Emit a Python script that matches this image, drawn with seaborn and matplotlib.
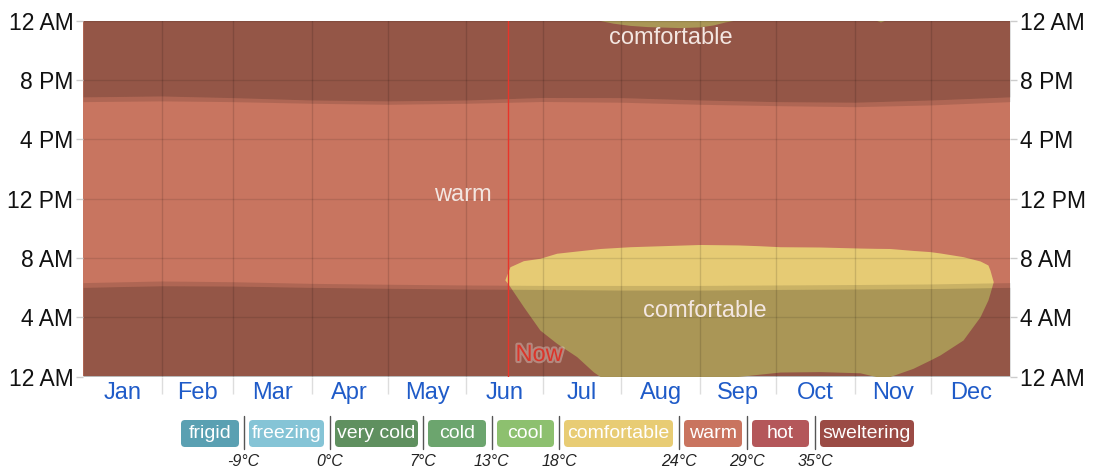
import matplotlib
matplotlib.use("Agg")
import matplotlib.pyplot as plt
import matplotlib.patheffects as pe
from matplotlib.patches import FancyBboxPatch
import seaborn as sns

# --- data ---
month_names = ["Jan", "Feb", "Mar", "Apr", "May", "Jun",
               "Jul", "Aug", "Sep", "Oct", "Nov", "Dec"]
month_start = [0, 31, 59, 90, 120, 151, 181, 212, 243, 273, 304, 334, 365]
hour_ticks = [0, 4, 8, 12, 16, 20, 24]
hour_labels = ["12 AM", "4 AM", "8 AM", "12 PM", "4 PM", "8 PM", "12 AM"]

# twilight / night boundaries (hours) at each month start
dawn_hr = [6.01, 6.12, 6.10, 6.01, 5.95, 5.90, 5.87, 5.83, 5.83, 5.87, 5.90, 5.93, 6.01]
sunrise_hr = [6.33, 6.44, 6.39, 6.28, 6.22, 6.17, 6.14, 6.14, 6.14, 6.17, 6.20, 6.24, 6.33]
sunset_hr = [18.53, 18.58, 18.53, 18.42, 18.35, 18.42, 18.54, 18.49, 18.35, 18.26, 18.19, 18.31, 18.53]
dusk_hr = [18.85, 18.91, 18.80, 18.64, 18.58, 18.64, 18.81, 18.80, 18.64, 18.53, 18.49, 18.64, 18.85]

# comfortable region in the early morning (day of year, lower / upper hour)
comf_day = [166.1, 168.1, 173.4, 179.9, 186.5, 194.4, 200.9, 203.6, 215.4, 242.9,
            257.9, 266.0, 274.4, 290.2, 305.9, 312.2, 317.7, 326.8, 333.5, 337.4,
            346.5, 353.2, 356.3, 357.1, 358.4]
comf_lo = [6.52, 6.06, 4.71, 3.13, 2.24, 1.34, 0.32, 0.0, 0.0, 0.0,
           0.0, 0.15, 0.30, 0.33, 0.25, 0.0, 0.0, 0.55, 1.11, 1.45,
           2.46, 4.03, 5.16, 5.61, 6.39]
comf_hi = [6.52, 7.40, 7.81, 7.97, 8.31, 8.46, 8.58, 8.63, 8.75, 8.90,
           8.87, 8.82, 8.75, 8.73, 8.66, 8.64, 8.63, 8.50, 8.42, 8.33,
           8.08, 7.79, 7.52, 7.18, 6.39]

# comfortable region just before midnight
late_day = [203.6, 208.7, 215.4, 222.1, 235.1, 242.9, 248.1, 252.8, 255.9]
late_lo = [24.0, 23.82, 23.67, 23.59, 23.52, 23.57, 23.70, 23.90, 24.0]
speck_day = [312.5, 314.0, 315.5]
speck_lo = [24.0, 23.9, 24.0]

now_day = 167.5

legend_labels = ["frigid", "freezing", "very cold", "cold", "cool",
                 "comfortable", "warm", "hot", "sweltering"]
legend_colors = ["#5AA0B2", "#85C4D6", "#5F905F", "#6CA56E", "#8DC06F",
                 "#E8CC74", "#C9745F", "#B4575A", "#9B4B45"]
legend_temps = ["-9°C", "0°C", "7°C", "13°C", "18°C", "24°C", "29°C", "35°C"]

WARM = "#C87560"
COMF = "#E6CB74"

sns.set_theme(style="white")
plt.rcParams["font.family"] = ["Liberation Sans", "DejaVu Sans"]

W, H = 1094, 470
fig = plt.figure(figsize=(W / 100, H / 100), dpi=100)
ax = fig.add_axes([83 / W, 1 - 376.5 / H, 927 / W, 356 / H])

# base temperature bands
ax.fill_between([0, 365], 0, 24, color=WARM, lw=0, zorder=1)
ax.fill_between(comf_day, comf_lo, comf_hi, color=COMF, lw=0, zorder=1.1)
ax.fill_between(late_day, late_lo, 24, color=COMF, lw=0, zorder=1.1)
ax.fill_between(speck_day, speck_lo, 24, color=COMF, lw=0, zorder=1.1)

# night and twilight shading
ax.fill_between(month_start, 0, dawn_hr, color="black", alpha=0.26, lw=0, zorder=1.5)
ax.fill_between(month_start, dawn_hr, sunrise_hr, color="black", alpha=0.12, lw=0, zorder=1.5)
ax.fill_between(month_start, sunset_hr, dusk_hr, color="black", alpha=0.12, lw=0, zorder=1.5)
ax.fill_between(month_start, dusk_hr, 24, color="black", alpha=0.26, lw=0, zorder=1.5)

ax.set_xlim(0, 365)
ax.set_ylim(0, 24)

# axes, ticks, grid
mids = [(a + b) / 2 for a, b in zip(month_start[:-1], month_start[1:])]
ax.set_xticks(mids)
ax.set_xticklabels(month_names, color="#1F5BC8", fontsize=17)
ax.set_xticks(month_start[1:-1], minor=True)
ax.tick_params(axis="x", which="major", length=0, pad=4)
ax.tick_params(axis="x", which="minor", length=12, width=1, color="#DDDDDD", bottom=True)
ax.set_yticks(hour_ticks)
ax.set_yticklabels(hour_labels, fontsize=16.5, color="#111111")
ax.tick_params(axis="y", which="major", length=5, width=1, color="#CCCCCC",
               left=True, right=True, labelleft=True, labelright=True, pad=2)
ax.set_axisbelow(False)
ax.grid(False)
ax.grid(which="minor", axis="x", color="black", alpha=0.13, lw=1)
ax.grid(which="major", axis="y", color="black", alpha=0.1, lw=1)
sns.despine(ax=ax, left=True, bottom=True)

# now marker
ax.axvline(now_day, color="#E8342A", lw=1, zorder=3)
ax.text(now_day + 2.8, 1.45, "Now", color="#D9352A", fontsize=17, va="center",
        ha="left", zorder=4,
        path_effects=[pe.withStroke(linewidth=3, foreground="white", alpha=0.3)])

# band labels
label_kw = dict(color="#F3E6E1", fontsize=17, ha="center", va="center", zorder=4)
ax.text(149.6, 12.24, "warm", **label_kw)
ax.text(231.5, 22.8, "comfortable", **label_kw)
ax.text(244.7, 4.42, "comfortable", **label_kw)

# legend strip in pixel coordinates
lg = fig.add_axes([0, 0, 1, 1])
lg.set_xlim(0, W)
lg.set_ylim(H, 0)
lg.axis("off")
lg.patch.set_alpha(0)
box_x0 = [181, 249, 335, 428, 497, 564, 684, 752, 820]
box_x1 = [239, 324, 418, 486, 554, 673, 742, 809, 914]
sep_x = [243.5, 330, 423, 491.5, 559, 679, 747, 815]
for x0, x1, lab, col in zip(box_x0, box_x1, legend_labels, legend_colors):
    lg.add_patch(FancyBboxPatch((x0, 420), x1 - x0, 27,
                                boxstyle="round,pad=0,rounding_size=4",
                                fc=col, ec="none"))
    lg.text((x0 + x1) / 2, 434, lab, color="white", fontsize=14,
            ha="center", va="center")
for sx, t in zip(sep_x, legend_temps):
    lg.plot([sx, sx], [416, 449], color="#555555", lw=1)
    lg.text(sx, 461, t, fontsize=11.5, style="italic", color="#222222",
            ha="center", va="center")

fig.savefig("out.png", dpi=100)
